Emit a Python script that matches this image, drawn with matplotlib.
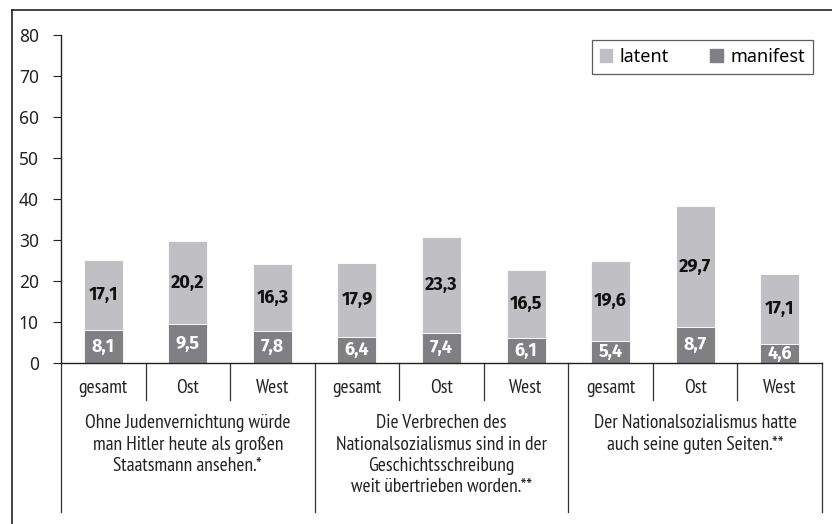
import matplotlib
matplotlib.use("Agg")
import matplotlib.pyplot as plt
from matplotlib.transforms import blended_transform_factory
from matplotlib.lines import Line2D
from matplotlib.patches import Patch

# ---- data ----
subcats = ["gesamt", "Ost", "West", "gesamt", "Ost", "West", "gesamt", "Ost", "West"]
groups = [
    "Ohne Judenvernichtung würde\nman Hitler heute als großen\nStaatsmann ansehen.*",
    "Die Verbrechen des\nNationalsozialismus sind in der\nGeschichtsschreibung\nweit übertrieben worden.**",
    "Der Nationalsozialismus hatte\nauch seine guten Seiten.**",
]
manifest = [8.1, 9.5, 7.8, 6.4, 7.4, 6.1, 5.4, 8.7, 4.6]
latent = [17.1, 20.2, 16.3, 17.9, 23.3, 16.5, 19.6, 29.7, 17.1]
yticks = [0, 10, 20, 30, 40, 50, 60, 70, 80]

cond = ["PT Sans Narrow", "DejaVu Sans"]
boldfam = ["Fira Sans", "DejaVu Sans"]
plt.rcParams["font.family"] = ["Noto Sans", "DejaVu Sans"]

W, H = 832, 524
fig = plt.figure(figsize=(W / 100, H / 100), dpi=100)
ax = fig.add_axes([61 / W, (H - 363) / H, (822 - 61) / W, (363 - 35) / H])

light = "#c0c0c4"
dark = "#808084"
x = list(range(len(subcats)))
ax.bar(x, manifest, width=0.46, color=dark, edgecolor="white", linewidth=0.6, label="manifest")
ax.bar(x, latent, width=0.46, bottom=manifest, color=light, edgecolor="white", linewidth=0.6, label="latent")

for i in x:
    ax.text(i, manifest[i] / 2, f"{manifest[i]:.1f}".replace(".", ","), ha="center", va="center",
            color="white", fontsize=13, fontweight=700, family=boldfam)
    ax.text(i, manifest[i] + latent[i] / 2, f"{latent[i]:.1f}".replace(".", ","), ha="center", va="center",
            color="#111111", fontsize=13, fontweight=700, family=boldfam)

ax.set_xlim(-0.5, len(subcats) - 0.5)
ax.set_ylim(0, 80)
ax.set_yticks(yticks)
ax.tick_params(axis="y", direction="out", length=6, width=0.8, labelsize=12.5, pad=10, colors="#222222")
ax.set_xticks([])
for s in ["top", "right"]:
    ax.spines[s].set_visible(False)
for s in ["left", "bottom"]:
    ax.spines[s].set_linewidth(1.0)
    ax.spines[s].set_color("#222222")

tr = blended_transform_factory(ax.transData, fig.transFigure)
def fy(py):
    return 1 - py / H

# separators
for k in range(len(subcats) + 1):
    xb = k - 0.5
    bottom = 512 if k % 3 == 0 else 400
    ax.add_line(Line2D([xb, xb], [fy(363), fy(bottom)], transform=tr, color="#333333",
                       linewidth=0.9, clip_on=False))

# subcategory labels
for i, s in enumerate(subcats):
    ax.text(i, fy(388), s, transform=tr, ha="center", va="center", fontsize=14,
            family=cond, color="#222222")

# group labels
for g, lab in enumerate(groups):
    ax.text(3 * g + 1, fy(414), lab, transform=tr, ha="center", va="top", fontsize=14,
            family=cond, color="#222222", linespacing=1.25)

# legend
handles = [Patch(color=light, label="latent"), Patch(color=dark, label="manifest")]
leg = ax.legend(handles=handles, loc="upper right", bbox_to_anchor=((813 - 61) / (822 - 61), (363 - 40) / 328),
                ncol=2, frameon=True, fancybox=False, fontsize=13, handlelength=0.7, handleheight=0.7,
                handletextpad=0.4, columnspacing=2.3, borderpad=0.45, borderaxespad=0)
leg.get_frame().set_edgecolor("#333333")
leg.get_frame().set_linewidth(0.9)

# outer frame (left and top)
fig.add_artist(Line2D([12 / W, 12 / W], [fy(10), 0], color="#222222", linewidth=1.2))
fig.add_artist(Line2D([12 / W, 1], [fy(10), fy(10)], color="#222222", linewidth=1.2))

fig.savefig("out.png", dpi=100)
